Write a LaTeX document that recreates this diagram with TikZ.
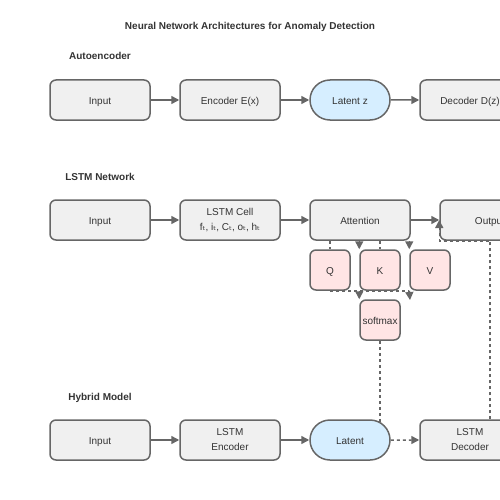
\documentclass[tikz,border=0pt]{standalone}
\usepackage{fontspec}
\setmainfont{Liberation Sans}
\newfontfamily\subfont{DejaVu Sans}
\usetikzlibrary{arrows.meta,shapes.misc}
\definecolor{linegray}{HTML}{666666}
\definecolor{boxfill}{HTML}{F0F0F0}
\definecolor{attfill}{HTML}{FFE5E5}
\definecolor{latfill}{HTML}{D6EEFF}
\definecolor{textgray}{HTML}{333333}
\newcommand{\tsub}{{\subfont ₜ}}

\begin{document}
\begin{tikzpicture}[x=1pt,y=-1pt,
    font=\fontsize{10}{15}\selectfont, text=textgray,
    twobox/.style={draw=linegray,line width=1.5pt,fill=boxfill,rounded corners=6pt,
      minimum width=100pt,minimum height=40pt,align=center,inner sep=0pt},
    box/.style={twobox,text height=9pt,text depth=0pt},
    latent/.style={draw=linegray,line width=1.5pt,fill=latfill,rounded rectangle,
      minimum width=80pt,minimum height=40pt,inner sep=0pt,text height=9pt,text depth=0pt},
    small/.style={box,fill=attfill,minimum width=40pt},
    head/.style={font=\fontsize{10}{12}\selectfont\bfseries,anchor=base},
    dline/.style={draw=linegray,line width=1.5pt,dashed},
    link/.style={draw=linegray,line width=1.5pt,-{Triangle[length=8pt,width=8pt]}},
    dlink/.style={link,dashed}]
      \useasboundingbox (0,0) rectangle (500,500);
      \node[head] (title) at (250,29.5) {Neural Network Architectures for Anomaly Detection};
      \node[head] (ae) at (100,60) {Autoencoder};
      \node[head] (lstm) at (100,180) {LSTM Network};
      \node[head] (hyb) at (100,400) {Hybrid Model};
      % autoencoder
      \node[box] (in1) at (100,100) {Input};
      \node[box] (enc) at (230,100) {Encoder E(x)};
      \node[latent] (lat1) at (350,100) {Latent z};
      \node[box] (dec) at (470,100) {Decoder D(z)};
      % lstm
      \node[box] (in2) at (100,220) {Input};
      \node[twobox] (cell) at (230,220) {LSTM Cell\\f\tsub, i\tsub, C\tsub, o\tsub, h\tsub};
      \node[box] (att) at (360,220) {Attention};
      \node[box] (out) at (490,220) {Output};
      \node[small] (q) at (330,270) {Q};
      \node[small] (k) at (380,270) {K};
      \node[small] (v) at (430,270) {V};
      \node[small] (sm) at (380,320) {softmax};
      % hybrid
      \node[box] (in3) at (100,440) {Input};
      \node[twobox] (lenc) at (230,440) {LSTM\\Encoder};
      \node[latent] (lat3) at (350,440) {Latent};
      \node[twobox] (ldec) at (470,440) {LSTM\\Decoder};
      \foreach \a/\b in {in1/enc, enc/lat1, lat1/dec, in2/cell, cell/att, att/out, in3/lenc, lenc/lat3} {
	\path (\a) edge[link] (\b);
      };
      \path (lat3) edge[dlink] (ldec);
      \foreach \n in {q,k} {
	\draw[dline] (att.south -| \n.north) -- (\n.north);
      };
      \foreach \n in {k,v} {
	\draw[dlink] (att.south -| \n.north west) -- (\n.north west);
      };
      \coordinate (vdrop) at (410,300);
      \draw[dline] (q.south) -- (v.south west);
      \draw[dlink] (k.south west) -- (sm.north west);
      \draw[dlink] (v.south west) -- (vdrop);
      \draw[dline] (sm.south) -- ([yshift=-2.5pt]sm.south |- lat3.north);
      \draw[dlink] (out.south |- ldec.north) -- (out.south) -| (out.west);
    \end{tikzpicture}
\end{document}
